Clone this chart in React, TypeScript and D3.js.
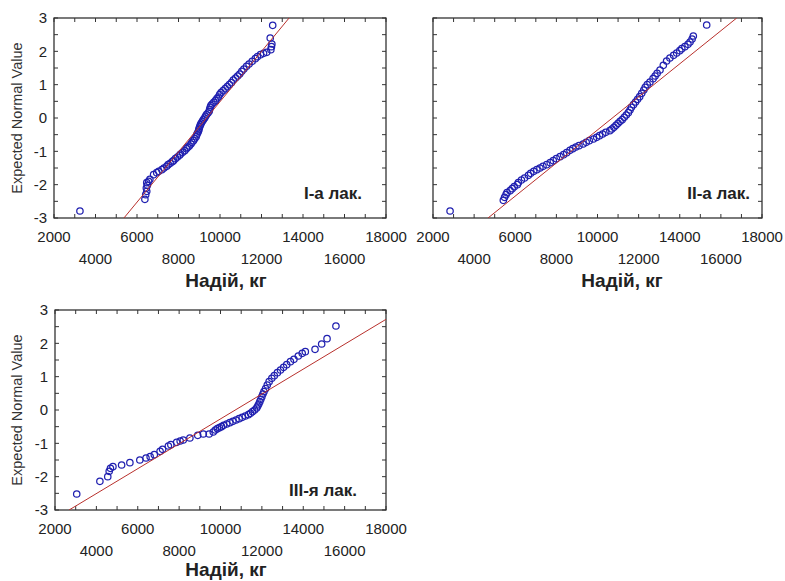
import React from 'react';
import * as d3 from 'd3';

// ---- data ----
const xTicks = [2000, 4000, 6000, 8000, 10000, 12000, 14000, 16000, 18000];
const yTicks = [-3, -2, -1, 0, 1, 2, 3];
const xTitle = 'Надій, кг';
const yTitle = 'Expected Normal Value';
const lactationNames = ['I-а лак.', 'II-а лак.', 'III-я лак.'];

// [milk yield kg, expected normal value]
const lak1: [number, number][] = [
  [3250, -2.79],
  [6380, -2.44], [6420, -2.30], [6470, -2.20], [6450, -2.10], [6500, -2.02], [6470, -1.94], [6560, -1.90],
  [6620, -1.84], [6800, -1.70], [6950, -1.64], [7050, -1.60], [7200, -1.55], [7300, -1.50], [7430, -1.45],
  [7500, -1.40], [7600, -1.36], [7700, -1.31], [7760, -1.28], [7850, -1.22], [7950, -1.17], [8050, -1.12],
  [8100, -1.08], [8200, -1.03], [8300, -0.98], [8380, -0.92], [8450, -0.88], [8520, -0.84], [8600, -0.78],
  [8650, -0.73], [8720, -0.68], [8780, -0.62], [8850, -0.56], [8880, -0.50], [8920, -0.45], [8960, -0.40],
  [8980, -0.35], [9000, -0.30], [9030, -0.25], [9060, -0.20], [9100, -0.15], [9150, -0.10], [9200, -0.05],
  [9260, 0.00], [9300, 0.05], [9350, 0.10], [9420, 0.15], [9480, 0.20], [9500, 0.26], [9530, 0.32],
  [9560, 0.37], [9620, 0.42], [9700, 0.47], [9780, 0.52], [9850, 0.58], [9920, 0.63], [9980, 0.70],
  [10050, 0.76], [10150, 0.82], [10250, 0.88], [10350, 0.94], [10450, 1.00], [10550, 1.06], [10640, 1.14],
  [10750, 1.20], [10850, 1.26], [10950, 1.32], [11050, 1.40], [11150, 1.47], [11280, 1.55], [11400, 1.62],
  [11550, 1.70], [11700, 1.78], [11800, 1.84], [11950, 1.90], [12100, 1.94], [12250, 1.97], [12450, 2.05],
  [12480, 2.14], [12500, 2.22], [12420, 2.40], [12540, 2.78],
];

const lak2: [number, number][] = [
  [2830, -2.79],
  [5420, -2.47], [5480, -2.38], [5550, -2.30], [5600, -2.24], [5750, -2.18], [5850, -2.12], [5950, -2.06],
  [6100, -2.00], [6150, -1.94], [6300, -1.86], [6450, -1.80], [6640, -1.72], [6750, -1.66], [6900, -1.60],
  [7050, -1.55], [7200, -1.50], [7350, -1.45], [7530, -1.40], [7700, -1.34], [7850, -1.28], [8000, -1.22],
  [8180, -1.16], [8350, -1.10], [8500, -1.04], [8660, -0.97], [8800, -0.92], [8950, -0.87], [9100, -0.83],
  [9300, -0.78], [9450, -0.73], [9600, -0.68], [9800, -0.63], [9960, -0.58], [10100, -0.53], [10250, -0.48],
  [10400, -0.43], [10600, -0.38], [10700, -0.33], [10800, -0.28], [10900, -0.22], [11000, -0.16], [11100, -0.10],
  [11200, -0.05], [11300, 0.02], [11400, 0.09], [11500, 0.16], [11580, 0.24], [11650, 0.32], [11750, 0.40],
  [11850, 0.48], [11950, 0.56], [12050, 0.64], [12150, 0.74], [12250, 0.84], [12320, 0.92], [12420, 1.00],
  [12550, 1.08], [12700, 1.18], [12800, 1.26], [12900, 1.34], [13040, 1.44], [13200, 1.58], [13360, 1.71],
  [13520, 1.80], [13700, 1.88], [13850, 1.95], [14000, 2.02], [14100, 2.08], [14250, 2.14], [14400, 2.21],
  [14500, 2.28], [14600, 2.37], [14660, 2.46], [15310, 2.79],
];

const lak3: [number, number][] = [
  [3050, -2.52], [4170, -2.14], [4550, -2.00], [4620, -1.84], [4680, -1.75], [4800, -1.70], [5220, -1.65],
  [5620, -1.58], [6100, -1.50], [6400, -1.44], [6600, -1.40], [6800, -1.34], [7080, -1.24], [7200, -1.18],
  [7480, -1.08], [7600, -1.04], [7880, -0.97], [8050, -0.93], [8200, -0.90], [8520, -0.84], [8900, -0.76],
  [9170, -0.72], [9450, -0.72], [9650, -0.66], [9750, -0.60], [9850, -0.56], [9950, -0.53], [10050, -0.50],
  [10150, -0.46], [10300, -0.42], [10450, -0.38], [10600, -0.34], [10750, -0.30], [10900, -0.26], [11050, -0.22],
  [11200, -0.18], [11350, -0.14], [11450, -0.10], [11550, -0.05], [11650, 0.00], [11750, 0.06], [11800, 0.12],
  [11850, 0.18], [11900, 0.25], [11950, 0.32], [12000, 0.40], [12050, 0.48], [12100, 0.55], [12180, 0.64],
  [12260, 0.75], [12350, 0.85], [12480, 0.95], [12600, 1.03], [12750, 1.12], [12900, 1.20], [13050, 1.28],
  [13200, 1.36], [13380, 1.45], [13550, 1.52], [13760, 1.62], [13950, 1.70], [14100, 1.75], [14570, 1.82],
  [14890, 1.98], [15150, 2.14], [15580, 2.52],
];

// fitted normal lines: endpoints [kg, z]
const fit1: [number, number][] = [[5370, -3], [13330, 3]];
const fit2: [number, number][] = [[4675, -3], [16770, 3]];
const fit3: [number, number][] = [[2680, -3], [18750, 3]];

// ---- layout ----
const FONT = 'Arial, "Liberation Sans", sans-serif';
const panels = [
  { id: 'p1', left: 54, right: 386, top: 18, bottom: 218, pts: lak1, fit: fit1, name: lactationNames[0], showY: true, titleX: 226, titleY: 287, nameX: 362, nameY: 199 },
  { id: 'p2', left: 433, right: 762, top: 18, bottom: 218, pts: lak2, fit: fit2, name: lactationNames[1], showY: false, titleX: 622, titleY: 287, nameX: 750, nameY: 199 },
  { id: 'p3', left: 55, right: 386, top: 310, bottom: 510, pts: lak3, fit: fit3, name: lactationNames[2], showY: true, titleX: 226, titleY: 576, nameX: 357, nameY: 496 },
];

function Panel({ cfg }: { cfg: typeof panels[number] }) {
  const x = d3.scaleLinear().domain([2000, 18000]).range([cfg.left, cfg.right]);
  const y = d3.scaleLinear().domain([-3, 3]).range([cfg.bottom, cfg.top]);
  const minorX = d3.range(2000, 18001, 1000);
  const minorY = d3.range(-3, 3.001, 0.5);
  const line = d3.line<[number, number]>().x(d => x(d[0])).y(d => y(d[1]));
  const tl = 4;
  const midY = (cfg.top + cfg.bottom) / 2;
  return (
    <g>
      <defs>
        <clipPath id={`clip-${cfg.id}`}>
          <rect x={cfg.left} y={cfg.top} width={cfg.right - cfg.left} height={cfg.bottom - cfg.top} />
        </clipPath>
      </defs>
      <rect x={cfg.left} y={cfg.top} width={cfg.right - cfg.left} height={cfg.bottom - cfg.top} fill="#fff" stroke="#222" strokeWidth={1.2} />
      {minorX.map(v => (
        <g key={`tx${v}`} stroke="#333" strokeWidth={1}>
          <line x1={x(v)} x2={x(v)} y1={cfg.bottom} y2={cfg.bottom - tl} />
          <line x1={x(v)} x2={x(v)} y1={cfg.top} y2={cfg.top + tl} />
        </g>
      ))}
      {minorY.map(v => (
        <g key={`ty${v}`} stroke="#333" strokeWidth={1}>
          <line x1={cfg.left} x2={cfg.left + tl} y1={y(v)} y2={y(v)} />
          <line x1={cfg.right} x2={cfg.right - tl} y1={y(v)} y2={y(v)} />
        </g>
      ))}
      <g clipPath={`url(#clip-${cfg.id})`}>
        {cfg.pts.map((d, i) => (
          <circle key={i} cx={x(d[0])} cy={y(d[1])} r={3.2} fill="none" stroke="#2020b0" strokeWidth={1.25} />
        ))}
        <path d={line(cfg.fit) || ''} fill="none" stroke="#b8302c" strokeWidth={1} />
      </g>
      {xTicks.map((v, i) => (
        <text key={`xl${v}`} x={x(v)} y={cfg.bottom + (i % 2 === 0 ? 24 : 46)} textAnchor="middle"
          fontFamily={FONT} fontSize={15} fill="#222">{v}</text>
      ))}
      {cfg.showY && yTicks.map(v => (
        <text key={`yl${v}`} x={cfg.left - 7} y={y(v)} dy="0.36em" textAnchor="end"
          fontFamily={FONT} fontSize={15} fill="#222">{v < 0 ? `-${Math.abs(v)}` : v}</text>
      ))}
      {cfg.showY && (
        <text transform={`translate(17,${midY}) rotate(-90)`} textAnchor="middle" dy="0.35em"
          fontFamily={FONT} fontSize={14.5} fill="#333">{yTitle}</text>
      )}
      <text x={cfg.titleX} y={cfg.titleY} textAnchor="middle" fontFamily={FONT} fontSize={19}
        fontWeight="bold" fill="#222">{xTitle}</text>
      <text x={cfg.nameX} y={cfg.nameY} textAnchor="end" fontFamily={FONT} fontSize={17}
        fontWeight="bold" fill="#222">{cfg.name}</text>
    </g>
  );
}

export default function App() {
  return (
    <svg width={785} height={581} style={{ position: 'absolute', left: 0, top: 0, background: '#fff' }}>
      <rect x={0} y={0} width={785} height={581} fill="#fff" />
      {panels.map(p => <Panel key={p.id} cfg={p} />)}
    </svg>
  );
}
